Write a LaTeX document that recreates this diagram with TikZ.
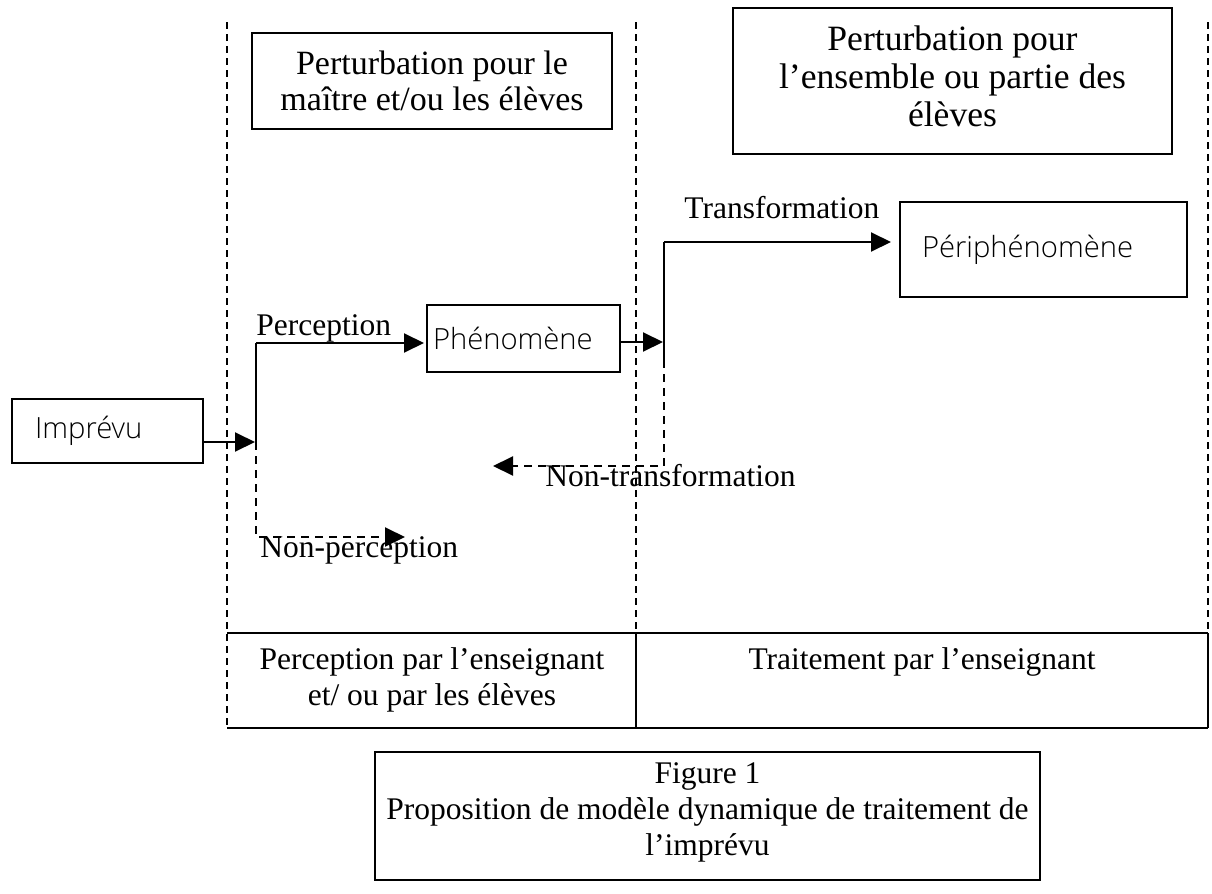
\documentclass[tikz,border=0pt]{standalone}
\usepackage{fontspec}
\setmainfont{Liberation Serif}
\newfontfamily\sansf{Open Sans Light}
\usetikzlibrary{arrows.meta,calc}
\begin{document}
\begin{tikzpicture}[x=0.5pt,y=-0.5pt,
  font=\fontsize{15.75}{18}\selectfont,
  box/.style={draw,line width=1pt,inner sep=0pt},
  sbox/.style={draw,line width=1pt,font=\sansf\fontsize{14.6}{16}\selectfont,align=left,inner ysep=0pt},
  divider/.style={line width=0.7pt,dash pattern=on 3.5pt off 2.5pt},
  conn/.style={line width=1pt,-{Triangle[length=10pt,width=9.5pt]}},
  dconn/.style={conn,dash pattern=on 4pt off 3pt},
  solidline/.style={line width=1pt},
  lbl/.style={inner sep=0pt}
]
\useasboundingbox (0,0) rectangle (1212,894);
% dividers
\draw[divider] (227,22) -- (227,728);
\draw[divider] (636,22) -- (636,633);
\draw[divider] (1208,22) -- (1208,633);
% table
\draw[solidline] (227,633) -- (1208,633) (636,633) -- (636,728) (1208,633) -- (1208,728) (227,728) -- (1208,728);
% boxes
\node[box,minimum width=180pt,minimum height=48pt,align=center,font=\fontsize{17}{18}\selectfont] (pert1) at (432,81) {Perturbation pour le\\maître et/ou les élèves};
\node[box,minimum width=219.5pt,minimum height=73pt] (pert2) at (952.5,81) {};
\node[align=center,inner sep=0pt,font=\fontsize{17.8}{19}\selectfont] (pert2t) at (952.5,76) {Perturbation pour\\l’ensemble ou partie des\\élèves};
\node[sbox,minimum height=32pt,text width=72.5pt,inner xsep=11.5pt] (imp) at (107.5,431) {Imprévu};
\node[sbox,minimum height=33.5pt,text width=90.5pt,inner xsep=3pt] (phen) at (523.5,338.5) {Phénomène};
\node[sbox,minimum height=47.5pt,text width=121.5pt,inner xsep=11pt] (peri) at (1043.5,249.5) {Périphénomène};
% junctions
\coordinate (j1) at (255,442);
\coordinate (jtop) at (256,343);
\coordinate (jv) at (256,442);
\coordinate (jbot) at (256,537);
\coordinate (np) at (405,537);
\coordinate (k) at (663,342);
\coordinate (ktop) at (664,242);
\coordinate (kmid) at (664,360);
\coordinate (kbot) at (664,466);
\coordinate (nt) at (493,466);
% connectors
\draw[conn] (imp.east |- j1) -- (j1);
\draw[solidline] (jtop) -- (jv);
\draw[dconn] (jv) -- (jbot) -- (np);
\draw[conn,shorten >=1pt] (jtop) -- (phen.west |- jtop);
\draw[conn] (phen.east |- k) -- (k);
\draw[solidline] (ktop) -- (kmid);
\draw[dconn] (kmid) -- (kbot) -- (nt);
\draw[conn,shorten >=4pt] (ktop) -- (peri.west |- ktop);
% labels
\node[lbl,anchor=west] (lperc) at (256,328) {Perception};
\node[lbl,anchor=west] (ltr) at (684,208) {Transformation};
\node[lbl,anchor=west] (lntr) at (545,476) {Non-transformation};
\node[lbl,anchor=west] (lnp) at (260,550) {Non-perception};
% table cells
\node[align=center,inner sep=0pt] (cell1) at (432,680) {Perception par l’enseignant\\et/ ou par les élèves};
\node[inner sep=0pt] (cell2) at (922,662) {Traitement par l’enseignant};
% caption
\node[box,minimum width=332.5pt,minimum height=64pt] (fig) at (707.5,816) {};
\node[align=center,inner sep=0pt] (figt) at (707.5,812) {Figure 1\\Proposition de modèle dynamique de traitement de\\l’imprévu};
\end{tikzpicture}
\end{document}
